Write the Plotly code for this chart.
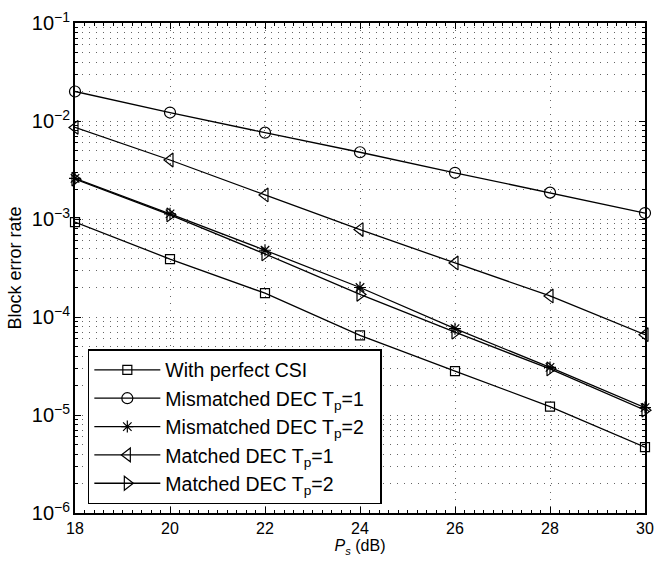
import plotly.graph_objects as go

x_db = [18, 20, 22, 24, 26, 28, 30]

perfect_csi = [9.3e-4, 3.9e-4, 1.75e-4, 6.5e-5, 2.8e-5, 1.22e-5, 4.7e-6]
mismatched_tp1 = [2.0e-2, 1.22e-2, 7.6e-3, 4.8e-3, 2.96e-3, 1.86e-3, 1.15e-3]
mismatched_tp2 = [2.6e-3, 1.13e-3, 4.8e-4, 2.0e-4, 7.6e-5, 3.06e-5, 1.19e-5]
matched_tp1 = [8.6e-3, 4.0e-3, 1.76e-3, 7.8e-4, 3.56e-4, 1.64e-4, 6.6e-5]
matched_tp2 = [2.55e-3, 1.1e-3, 4.4e-4, 1.7e-4, 7.0e-5, 2.95e-5, 1.12e-5]

series = [
    ("With perfect CSI", perfect_csi, "square-open", 9),
    ("Mismatched DEC T<sub>p</sub>=1&nbsp;&nbsp;", mismatched_tp1, "circle-open", 11),
    ("Mismatched DEC T<sub>p</sub>=2", mismatched_tp2, "asterisk-open", 10),
    ("Matched DEC T<sub>p</sub>=1", matched_tp1, "triangle-left-open", 12),
    ("Matched DEC T<sub>p</sub>=2", matched_tp2, "triangle-right-open", 12),
]

fig = go.Figure()
for name, ys, sym, sz in series:
    fig.add_trace(go.Scatter(
        x=x_db, y=ys, name=name, mode="lines+markers",
        line=dict(color="black", width=1.3),
        marker=dict(symbol=sym, size=sz, color="black", line=dict(color="black", width=1.2)),
        cliponaxis=False,
    ))

grid_style = dict(gridcolor="#666666", griddash="1px,6px", gridwidth=1)

fig.update_layout(
    width=663, height=561,
    margin=dict(l=75, r=9, t=19, b=45),
    plot_bgcolor="white", paper_bgcolor="white",
    font=dict(family="Liberation Sans, Arial, sans-serif", color="black", size=16),
    showlegend=True,
    legend=dict(
        x=0.0225, y=0.018, xanchor="left", yanchor="bottom",
        bgcolor="white", bordercolor="black", borderwidth=1.5,
        font=dict(size=19.5, color="black"),
        itemwidth=66,
    ),
)

fig.update_xaxes(
    range=[18, 30], dtick=2, tick0=18,
    showline=True, linecolor="black", linewidth=1.5, mirror="ticks",
    ticks="inside", ticklen=6, tickcolor="black",
    showgrid=True, zeroline=False, **grid_style,
    minor=dict(ticks="inside", ticklen=3, dtick=0.2, tickcolor="black", showgrid=False),
    title=dict(text="<i>P<sub>s</sub></i> (dB)", font=dict(size=16), standoff=4),
    tickfont=dict(size=16),
)
fig.update_yaxes(
    type="log", range=[-6, -1], dtick=1,
    exponentformat="power", showexponent="all",
    showline=True, linecolor="black", linewidth=1.5, mirror="ticks",
    ticks="inside", ticklen=6, tickcolor="black",
    showgrid=True, zeroline=False, **grid_style,
    minor=dict(ticks="inside", ticklen=3, dtick="D1", tickcolor="black",
               showgrid=True, **grid_style),
    title=dict(text="Block error rate", font=dict(size=18), standoff=6),
    tickfont=dict(size=16),
)

fig.write_html("out.html")
